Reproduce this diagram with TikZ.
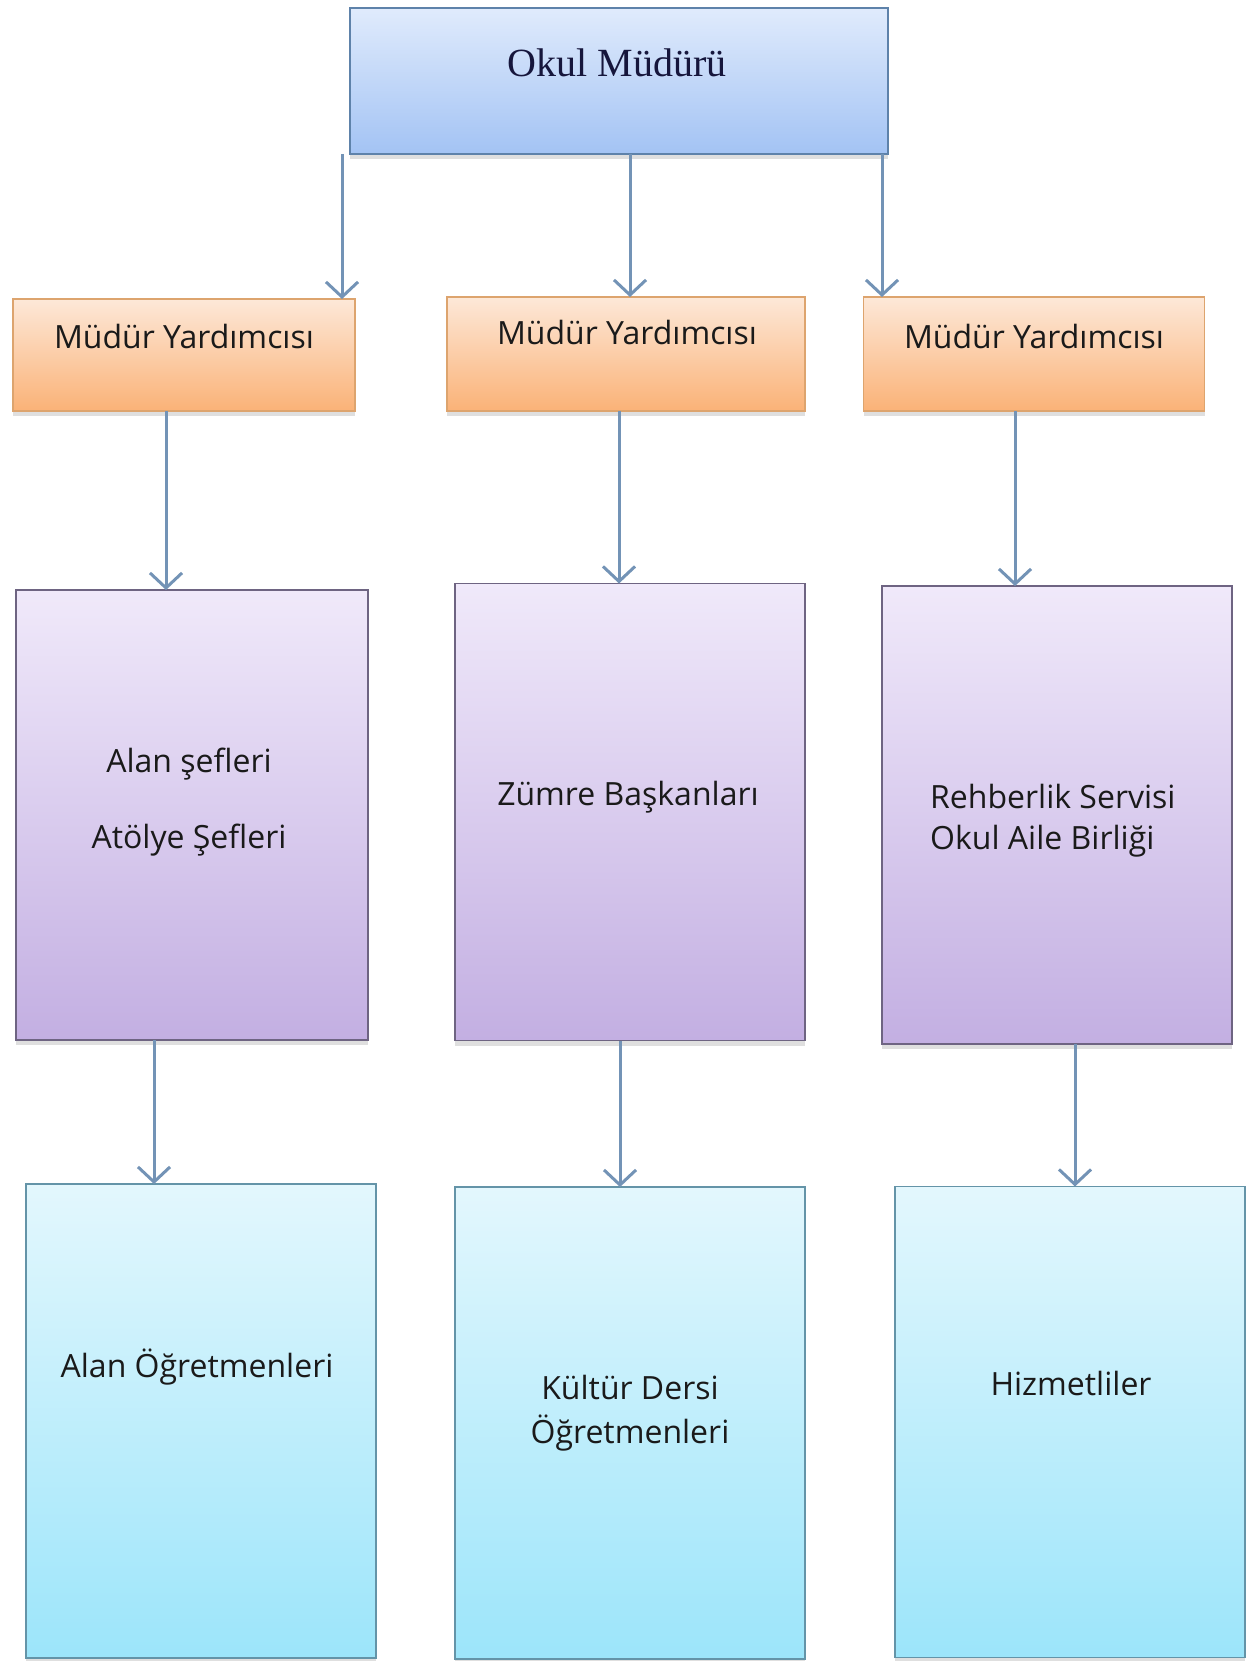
\documentclass[tikz,border=0pt]{standalone}
\usepackage{fontspec}
\setmainfont{Open Sans}
\newfontfamily\serifface{Liberation Serif}
\usetikzlibrary{arrows.meta,shadows}
\definecolor{arrowc}{HTML}{7393B6}
\definecolor{topT}{HTML}{E0EBFC}
\definecolor{topB}{HTML}{A3C3F4}
\definecolor{topD}{HTML}{5E82AA}
\definecolor{orT}{HTML}{FDE8D8}
\definecolor{orB}{HTML}{FAB277}
\definecolor{orD}{HTML}{DDA46E}
\definecolor{puT}{HTML}{F0E9FA}
\definecolor{puB}{HTML}{C3AFE2}
\definecolor{puD}{HTML}{6E6482}
\definecolor{cyT}{HTML}{E3F7FD}
\definecolor{cyB}{HTML}{9CE5FA}
\definecolor{cyD}{HTML}{6494A8}
\definecolor{txt}{HTML}{1A1A1A}
\tikzset{
  boxbase/.style={rectangle, inner sep=0pt, outer sep=0pt, line width=1.6pt,
    drop shadow={opacity=0.25, shadow xshift=0pt, shadow yshift=-5pt}},
  headbox/.style={boxbase, draw=topD, top color=topT, bottom color=topB},
  orbox/.style={boxbase, draw=orD, top color=orT, bottom color=orB},
  pubox/.style={boxbase, draw=puD, top color=puT, bottom color=puB},
  cybox/.style={boxbase, draw=cyD, top color=cyT, bottom color=cyB},
  lbl/.style={anchor=mid, inner sep=0pt, text=txt, font=\fontsize{32}{38}\selectfont},
  headlbl/.style={anchor=mid, inner sep=0pt, text=txt!85!blue, font=\serifface\fontsize{40}{46}\selectfont},
  arr/.style={draw=arrowc, line width=3pt, -{Straight Barb[length=15pt,width=32pt,line width=3pt]}}
}
\begin{document}
\begin{tikzpicture}[x=1pt,y=-1pt]
\useasboundingbox (0,0) rectangle (1250,1661);
\fill[white] (0,0) rectangle (1250,1661);

% boxes
\node[headbox, minimum width=538pt, minimum height=146pt] (top) at (619,81) {};
\node[orbox, minimum width=342pt, minimum height=112pt] (ob1) at (184,355) {};
\node[orbox, minimum width=358pt, minimum height=114pt] (ob2) at (626,354) {};
\node[orbox, minimum width=341pt, minimum height=114pt] (ob3) at (1034,354) {};
\node[pubox, minimum width=352pt, minimum height=450pt] (pb1) at (192,815) {};
\node[pubox, minimum width=350pt, minimum height=457pt] (pb2) at (630,812) {};
\node[pubox, minimum width=350pt, minimum height=458pt] (pb3) at (1057,815) {};
\node[cybox, minimum width=350pt, minimum height=474pt] (cb1) at (201,1421) {};
\node[cybox, minimum width=350pt, minimum height=472pt] (cb2) at (630,1423) {};
\node[cybox, minimum width=350pt, minimum height=471pt] (cb3) at (1070,1422) {};

% texts
\node[headlbl] (ttop) at (617,74) {Okul Müdürü};
\node[lbl] (t1) at (184,346) {Müdür Yardımcısı};
\node[lbl] (t2) at (627,342) {Müdür Yardımcısı};
\node[lbl] (t3) at (1034,346) {Müdür Yardımcısı};
\node[lbl] (t4) at (189,770) {Alan şefleri};
\node[lbl] (t5) at (189,846) {Atölye Şefleri};
\node[lbl] (t6) at (628,803) {Zümre Başkanları};
\node[lbl, anchor=west] (t7) at (930,796) {Rehberlik Servisi};
\node[lbl, anchor=west] (t8) at (930,841) {Okul Aile Birliği};
\node[lbl] (t9) at (197,1375) {Alan Öğretmenleri};
\node[lbl] (t10) at (630,1397) {Kültür Dersi};
\node[lbl] (t11) at (630,1441) {Öğretmenleri};
\node[lbl] (t12) at (1071,1393) {Hizmetliler};

% arrow columns
\coordinate (a1) at (342,0);
\coordinate (a2) at (630,0);
\coordinate (a3) at (882,0);
\coordinate (b1) at (166,0);
\coordinate (b2) at (619,0);
\coordinate (b3) at (1015,0);
\coordinate (c1) at (154,0);
\coordinate (c2) at (620,0);
\coordinate (c3) at (1075,0);

\draw[arr] (top.south -| a1) -- (ob1.north -| a1);
\draw[arr] (top.south -| a2) -- (ob2.north -| a2);
\draw[arr] (top.south -| a3) -- (ob3.north -| a3);
\draw[arr] (ob1.south -| b1) -- (pb1.north -| b1);
\draw[arr] (ob2.south -| b2) -- (pb2.north -| b2);
\draw[arr] (ob3.south -| b3) -- (pb3.north -| b3);
\draw[arr] (pb1.south -| c1) -- (cb1.north -| c1);
\draw[arr] (pb2.south -| c2) -- (cb2.north -| c2);
\draw[arr] (pb3.south -| c3) -- (cb3.north -| c3);
\end{tikzpicture}
\end{document}
